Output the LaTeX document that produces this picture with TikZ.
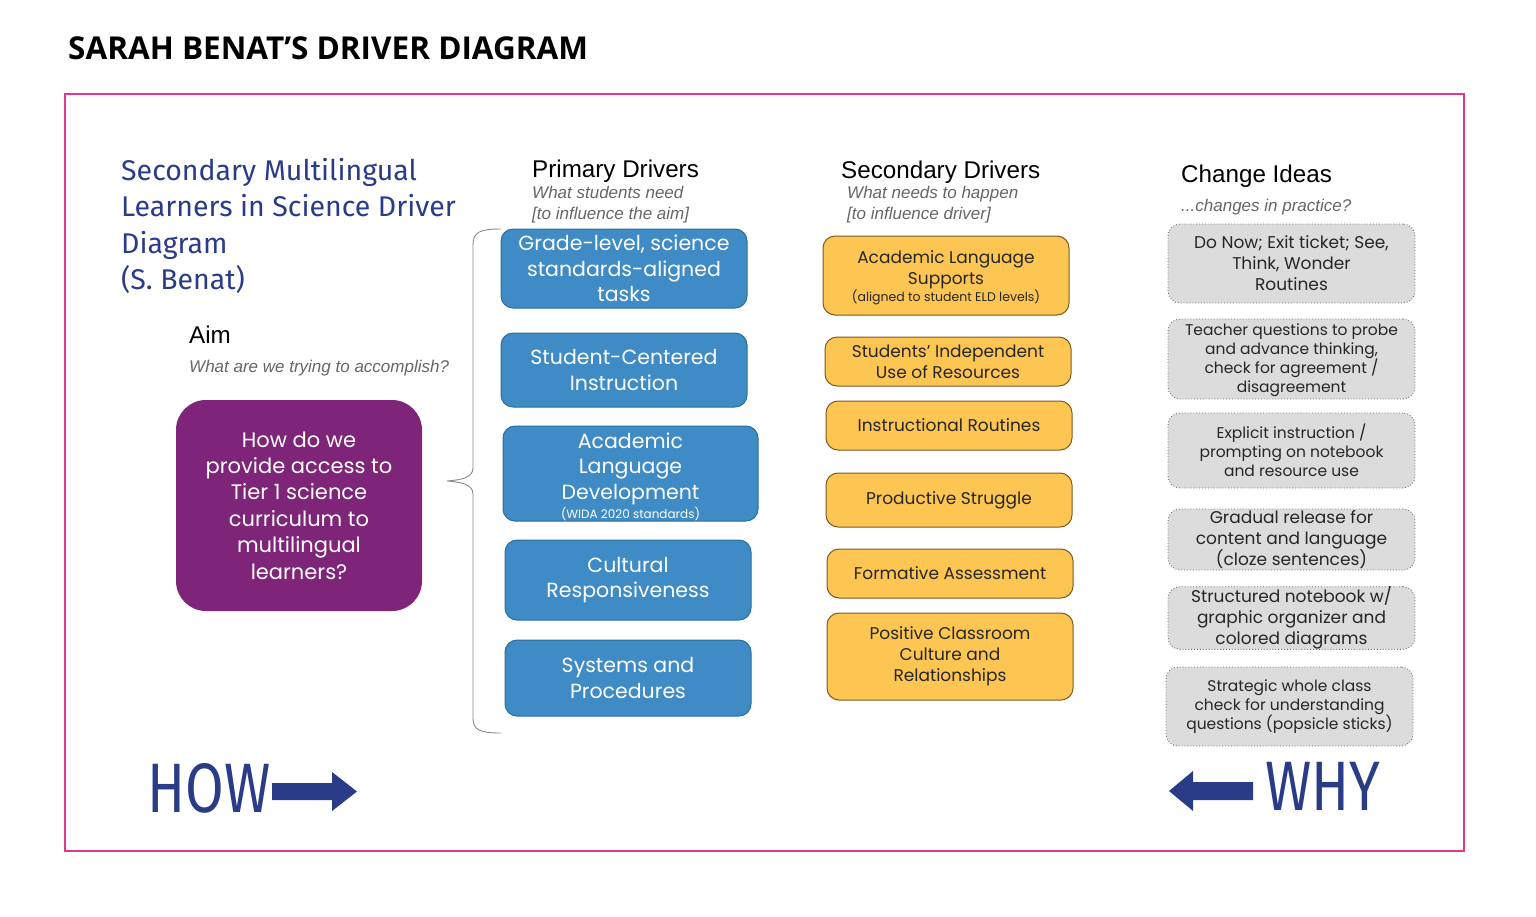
\documentclass[tikz,border=0pt]{standalone}
\usepackage{fontspec}
\setmainfont{Liberation Sans}
\newfontfamily\titlefont{Open Sans}
\newfontfamily\hdrfont{Liberation Sans}
\newfontfamily\boxfont{Poppins}
\newfontfamily\handfont{Fira Sans}
\newfontfamily\handcond[FakeStretch=0.8]{Fira Sans}
\definecolor{navy}{HTML}{2A3B88}
\definecolor{framepink}{HTML}{E0398C}
\definecolor{aimpurple}{HTML}{7E2479}
\definecolor{pblue}{HTML}{3F8BC6}
\definecolor{pblueborder}{HTML}{2E6E9E}
\definecolor{syellow}{HTML}{FDC652}
\definecolor{sborder}{HTML}{7A5A22}
\definecolor{cgray}{HTML}{DCDCDC}
\definecolor{cborder}{HTML}{707070}
\definecolor{subgray}{HTML}{666666}
\definecolor{bracegray}{HTML}{8A8A8A}
\tikzset{
  hand/.style={font=\handfont\fontsize{28.5}{36.5}\selectfont, text=navy, align=left, anchor=north west, inner sep=0},
  hdr/.style={font=\hdrfont\fontsize{24.2}{28}\selectfont, anchor=west, inner sep=0},
  subt/.style={font=\hdrfont\itshape\fontsize{17}{21}\selectfont, text=subgray, anchor=north west, align=left, inner sep=0},
  aimbox/.style={fill=aimpurple, rounded corners=30, text=white, align=center, inner sep=0,
    font=\boxfont\fontsize{21}{26.4}\selectfont},
  pbox/.style={fill=pblue, draw=pblueborder, line width=1pt, rounded corners=12, text=white, align=center, inner sep=0,
    font=\boxfont\fontsize{20.5}{25.5}\selectfont},
  sbox/.style={fill=syellow, draw=sborder, line width=1pt, rounded corners=12, text=black!85, align=center, inner sep=0,
    font=\boxfont\fontsize{17}{21}\selectfont},
  cbox/.style={fill=cgray, draw=cborder, dotted, line width=0.9pt, rounded corners=12, text=black!85, align=center, inner sep=0,
    font=\boxfont\fontsize{17}{21}\selectfont},
  csmall/.style={font=\boxfont\fontsize{15.5}{19}\selectfont},
  bigarrow/.style={fill=navy},
  handbig/.style={font=\handcond\fontsize{70}{70}\selectfont, text=navy, inner sep=0},
}
\begin{document}
\begin{tikzpicture}[x=1pt,y=-1pt]
\useasboundingbox (0,0) rectangle (1536,916);
\fill[white] (0,0) rectangle (1536,916);

% title
\node[anchor=west, inner sep=0, font=\titlefont\bfseries\fontsize{31.5}{34}\selectfont] (title) at (68,48) {SARAH BENAT’S DRIVER DIAGRAM};

% frame
\draw[framepink, line width=1.5pt] (65,94) rectangle (1464,851);

% handwritten heading
\node[hand] (hw) at (121,158) {Secondary Multilingual\\Learners in Science Driver\\Diagram\\(S. Benat)};

% aim
\node[hdr] (aim) at (189,335) {Aim};
\node[subt] (aimsub) at (189,360) {What are we trying to accomplish?};
\node[aimbox, minimum width=246, minimum height=211] (aimq) at (299,505.5)
  {How do we\\provide access to\\Tier 1 science\\curriculum to\\multilingual\\learners?};

% brace
\coordinate (btop) at (501,229);
\coordinate (bbot) at (501,733);
\coordinate (btip) at (447,481);
\draw[bracegray, line width=0.9pt]
  (btop) .. controls (480,229) and (473,232) .. (473,245)
  -- (473,468) .. controls (473,478) and (460,480) .. (btip)
  .. controls (460,482) and (473,484) .. (473,494)
  -- (473,718) .. controls (473,730) and (480,733) .. (bbot);

% primary drivers
\node[hdr] (ph) at (532,171) {Primary Drivers};
\node[subt] (psub) at (532,186) {What students need\\{}[to influence the aim]};
\node[pbox, minimum width=246, minimum height=79] (p1) at (624,268.5) {Grade-level, science\\standards-aligned\\tasks};
\node[pbox, minimum width=246, minimum height=74] (p2) at (624,370) {Student-Centered\\Instruction};
\node[pbox, minimum width=255, minimum height=95] (p3) at (630.5,473.5) {\rule{0pt}{22pt}Academic\\Language\\Development\\[-6pt]{\fontsize{12}{14}\selectfont (WIDA 2020 standards)}};
\node[pbox, minimum width=246, minimum height=80] (p4) at (628,580) {Cultural\\Responsiveness};
\node[pbox, minimum width=246, minimum height=76] (p5) at (628,678) {Systems and\\Procedures};

% secondary drivers
\node[hdr] (sh) at (841,172) {Secondary Drivers};
\node[subt] (ssub) at (847,186) {What needs to happen\\{}[to influence driver]};
\node[sbox, minimum width=246, minimum height=79] (s1) at (946,275.5) {\rule{0pt}{18pt}Academic Language\\Supports\\[-4pt]{\fontsize{12.5}{14}\selectfont (aligned to student ELD levels)}};
\node[sbox, minimum width=246, minimum height=49] (s2) at (948,361.5) {Students’ Independent\\Use of Resources};
\node[sbox, minimum width=246, minimum height=49] (s3) at (949,425.5) {Instructional Routines};
\node[sbox, minimum width=246, minimum height=54] (s4) at (949,500) {Productive Struggle};
\node[sbox, minimum width=246, minimum height=49] (s5) at (950,573.5) {Formative Assessment};
\node[sbox, minimum width=246, minimum height=87] (s6) at (950,656.5) {Positive Classroom\\Culture and\\Relationships};

% change ideas
\node[hdr] (ch) at (1181,176) {Change Ideas};
\node[subt] (csub) at (1181,199) {...changes in practice?};
\node[cbox, minimum width=247, minimum height=79] (c1) at (1291.5,263.5) {Do Now; Exit ticket; See,\\Think, Wonder\\Routines};
\node[cbox, csmall, minimum width=247, minimum height=80] (c2) at (1291.5,359) {\rule{0pt}{15pt}Teacher questions to probe\\and advance thinking,\\check for agreement /\\disagreement};
\node[cbox, csmall, minimum width=247, minimum height=75] (c3) at (1291.5,450.5) {Explicit instruction /\\prompting on notebook\\and resource use};
\node[cbox, minimum width=247, minimum height=61] (c4) at (1291.5,539.5) {Gradual release for\\content and language\\(cloze sentences)};
\node[cbox, minimum width=247, minimum height=62] (c5) at (1291.5,618) {Structured notebook w/\\graphic organizer and\\colored diagrams};
\node[cbox, csmall, minimum width=247, minimum height=79] (c6) at (1289.5,706.5) {Strategic whole class\\check for understanding\\questions (popsicle sticks)};

% HOW / WHY
\node[handbig, anchor=west] (how) at (147,788) {HOW};
\fill[bigarrow] (272,783) -- (332,783) -- (332,772) -- (357,791.5) -- (332,811) -- (332,800) -- (272,800) -- cycle;
\node[handbig, anchor=west] (why) at (1265,786) {WHY};
\fill[bigarrow] (1253,782) -- (1193,782) -- (1193,771) -- (1169,791) -- (1193,811) -- (1193,800) -- (1253,800) -- cycle;
\end{tikzpicture}
\end{document}
